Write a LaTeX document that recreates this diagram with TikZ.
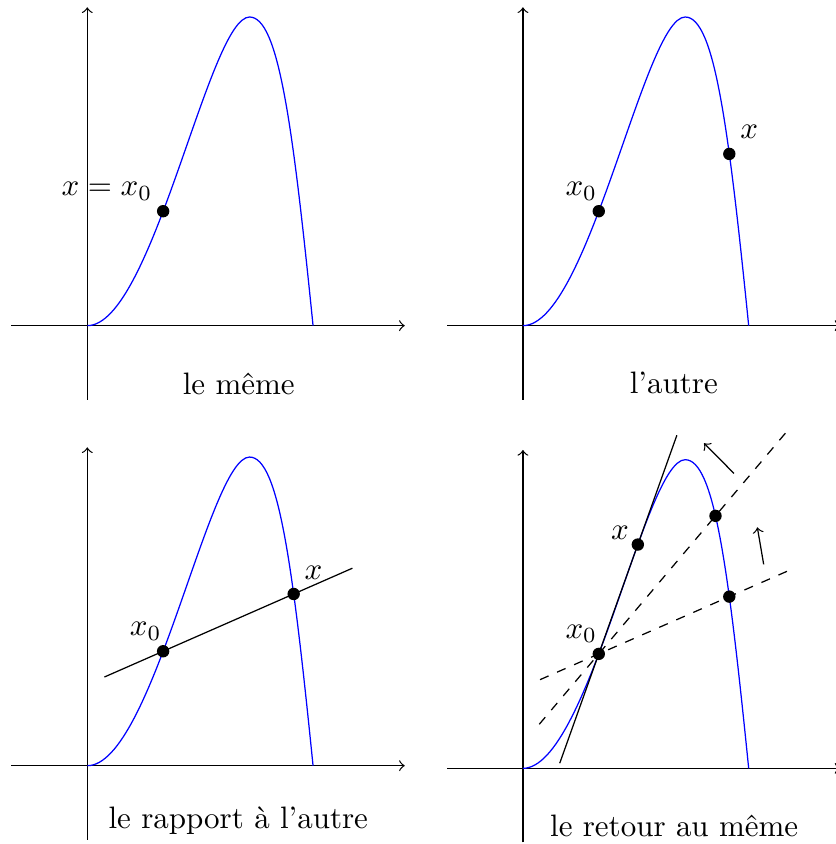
\documentclass[tikz,border=0pt]{standalone}
\usepackage{fontspec}
\usetikzlibrary{calc}

\begin{document}
\begin{tikzpicture}[
    axis/.style={->},
    courbe/.style={blue},
    dot/.style={circle, fill=black, inner sep=0pt, minimum size=4pt},
    secante/.style={dashed},
    fleche/.style={->}]
  \useasboundingbox (-0.99,-5.878) rectangle (8.479,3.693);
  % axes and curve of each panel
  \foreach \p/\ox/\oy in {meme/0/0, autre/4.94/0, rapport/0/-4.99, retour/4.94/-5.02} {
    \begin{scope}[shift={(\ox,\oy)}]
      \draw[axis] (-0.86,0) -- (3.6,0);
      \draw[axis] (0,-0.84) -- (0,3.61);
      \draw[courbe] (0,0) .. controls (0.74,0) and (1.38,3.5) .. (1.84,3.5)
          coordinate[pos=0.413] (x0-\p) coordinate[pos=0.655] (xa-\p)
        .. controls (2.17,3.5) and (2.33,2.27) .. (2.56,0)
          coordinate[pos=0.42] (xc-\p) coordinate[pos=0.66] (x-\p);
    \end{scope}
  }

  % le meme
  \node[dot] (p0-meme) at (x0-meme) {};
  \node[above left] (l0-meme) at (x0-meme) {$x=x_0$};
  \node[anchor=base] (t-meme) at (1.718,-0.78) {le même};

  % l'autre
  \node[dot] (p0-autre) at (x0-autre) {};
  \node[dot] (p-autre) at (x-autre) {};
  \node[above left, xshift=3pt] (l0-autre) at (x0-autre) {$x_0$};
  \node[above right, yshift=1.3pt] (l-autre) at (x-autre) {$x$};
  \node[anchor=base] (t-autre) at (6.651,-0.77) {l'autre};

  % le rapport a l'autre
  \draw ($(x0-rapport)!-0.45!(x-rapport)$) -- ($(x0-rapport)!1.45!(x-rapport)$);
  \node[dot] (p0-rapport) at (x0-rapport) {};
  \node[dot] (p-rapport) at (x-rapport) {};
  \node[above left, xshift=3pt] (l0-rapport) at (x0-rapport) {$x_0$};
  \node[above right, yshift=1.3pt] (l-rapport) at (x-rapport) {$x$};
  \node[anchor=base] (t-rapport) at (1.712,-5.698) {le rapport à l'autre};

  % le retour au meme
  \draw ($(x0-retour)!-1!(xa-retour)$) -- ($(x0-retour)!2!(xa-retour)$);
  \draw[secante] ($(x0-retour)!-0.45!(x-retour)$) -- ($(x0-retour)!1.45!(x-retour)$);
  \draw[secante] ($(x0-retour)!-0.51!(xc-retour)$) -- ($(x0-retour)!1.62!(xc-retour)$);
  \coordinate (f1a) at (7.333,-1.675);
  \coordinate (f1b) at (6.993,-1.334);
  \coordinate (f2a) at (7.670,-2.707);
  \coordinate (f2b) at (7.598,-2.287);
  \draw[fleche] (f1a) -- (f1b);
  \draw[fleche] (f2a) -- (f2b);
  \node[dot] (p0-retour) at (x0-retour) {};
  \node[dot] (pa-retour) at (xa-retour) {};
  \node[dot] (pc-retour) at (xc-retour) {};
  \node[dot] (p-retour) at (x-retour) {};
  \node[above left, xshift=3pt] (l0-retour) at (x0-retour) {$x_0$};
  \node[above left, xshift=0.6pt, yshift=-2pt] (la-retour) at (xa-retour) {$x$};
  \node[anchor=base] (t-retour) at (6.655,-5.792) {le retour au même};
\end{tikzpicture}
\end{document}
